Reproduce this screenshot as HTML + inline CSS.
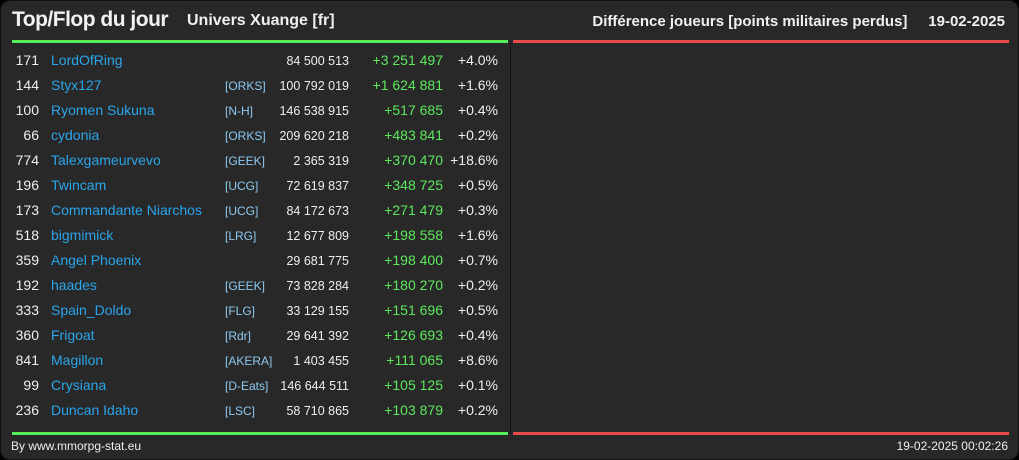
<!DOCTYPE html>
<html><head><meta charset="utf-8">
<style>
body{margin:0;background:#000;}
#card{position:absolute;left:0;top:0;width:1017px;height:458px;background:#282828;border:1px solid #111;border-radius:10px;overflow:hidden;font-family:"Liberation Sans",sans-serif;color:#eee;}
.abs{position:absolute;white-space:nowrap;}
.title{left:11px;top:7px;font-size:21px;font-weight:bold;letter-spacing:-0.5px;color:#f2f2f2;}
.sub{left:186px;top:11px;font-size:16px;font-weight:bold;color:#f0f0f0;}
.rt{right:13px;top:12px;font-size:15px;font-weight:bold;color:#f0f0f0;}
.line{position:absolute;height:3px;}
.cell{position:absolute;white-space:nowrap;line-height:16px;}
.rank{width:30px;left:8px;text-align:right;font-size:14px;color:#eee;}
.name{left:50px;font-size:14px;color:#2aa5ea;}
.tag{left:224px;font-size:12px;color:#8ec9f0;}
.pts{right:669px;font-size:12.5px;color:#eee;}
.diff{right:575px;font-size:14px;color:#5de85d;}
.pct{right:520px;font-size:14px;color:#eee;}
.foot{top:438px;font-size:12px;color:#eee;}
</style></head>
<body>
<div id="card">
 <div class="abs title">Top/Flop du jour</div>
 <div class="abs sub">Univers Xuange [fr]</div>
 <div class="abs rt">Différence joueurs [points militaires perdus]&nbsp;&nbsp;&nbsp;&nbsp;&nbsp;19-02-2025</div>
 <div class="line" style="left:11px;top:39px;width:496px;background:#55ec55"></div>
 <div class="line" style="left:512px;top:39px;width:496px;background:#e84c4c"></div>
 <div class="line" style="left:509px;top:42px;width:1px;height:391px;background:#111"></div>
 <div class="line" style="left:11px;top:431px;width:496px;background:#55ec55"></div>
 <div class="line" style="left:512px;top:431px;width:496px;background:#e84c4c"></div>
 <div id="rows"></div>
 <div class="abs foot" style="left:10px">By www.mmorpg-stat.eu</div>
 <div class="abs foot" style="right:10px">19-02-2025 00:02:26</div>
</div>
<script>
const ranks=["171","144","100","66","774","196","173","518","359","192","333","360","841","99","236"];
const names=["LordOfRing","Styx127","Ryomen Sukuna","cydonia","Talexgameurvevo","Twincam","Commandante Niarchos","bigmimick","Angel Phoenix","haades","Spain_Doldo","Frigoat","Magillon","Crysiana","Duncan Idaho"];
const tags=["","[ORKS]","[N-H]","[ORKS]","[GEEK]","[UCG]","[UCG]","[LRG]","","[GEEK]","[FLG]","[Rdr]","[AKERA]","[D-Eats]","[LSC]"];
const points=["84 500 513","100 792 019","146 538 915","209 620 218","2 365 319","72 619 837","84 172 673","12 677 809","29 681 775","73 828 284","33 129 155","29 641 392","1 403 455","146 644 511","58 710 865"];
const diffs=["+3 251 497","+1 624 881","+517 685","+483 841","+370 470","+348 725","+271 479","+198 558","+198 400","+180 270","+151 696","+126 693","+111 065","+105 125","+103 879"];
const pcts=["+4.0%","+1.6%","+0.4%","+0.2%","+18.6%","+0.5%","+0.3%","+1.6%","+0.7%","+0.2%","+0.5%","+0.4%","+8.6%","+0.1%","+0.2%"];
const host=document.getElementById('rows');
function cell(cls,txt,top){
 const d=document.createElement('div');
 d.className='cell '+cls;
 d.style.top=top+'px';
 d.textContent=txt;
 host.appendChild(d);
 return d;
}
ranks.forEach((r,i)=>{
 const y=51+i*25;
 const a=cell('rank',r,y);
 
 
 const b=cell('name',names[i],y);
 
 
 const c=cell('tag',tags[i],y+1);
 
 
 const d=cell('pts',points[i],y+1);
 
 
 const e=cell('diff',diffs[i],y);
 
 
 const f=cell('pct',pcts[i],y);
 
 
});
</script>
</body></html>
